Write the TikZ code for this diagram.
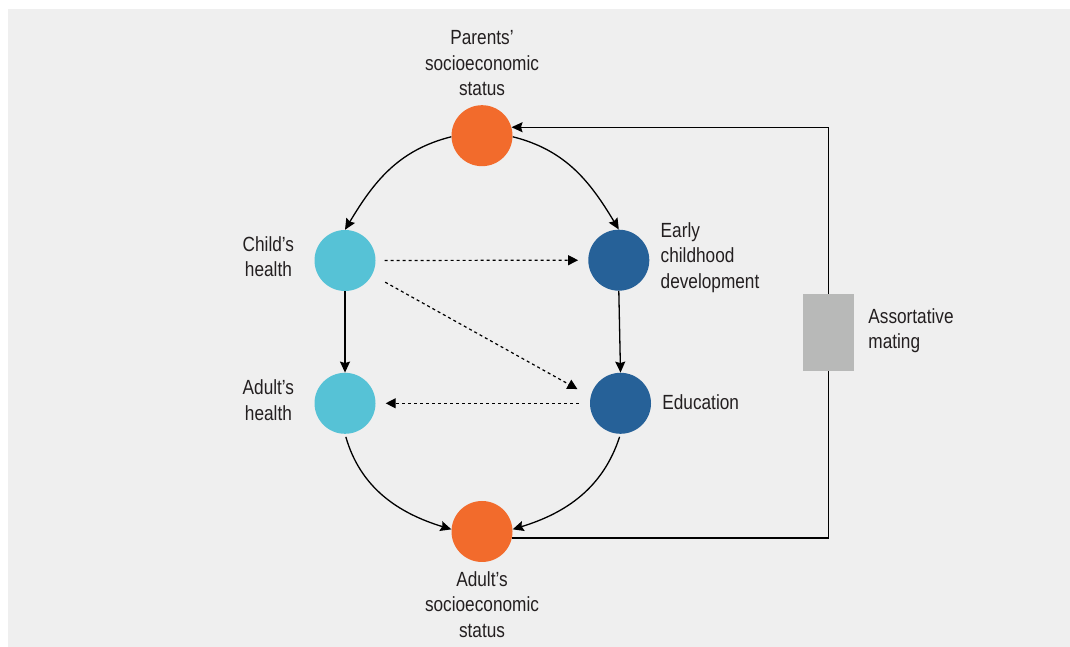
\documentclass[tikz,border=0pt]{standalone}
\usepackage{fontspec}
\setmainfont{Liberation Sans}[FakeStretch=0.84]
\usetikzlibrary{positioning,arrows.meta}
\definecolor{sesorange}{RGB}{242,107,44}
\definecolor{healthcyan}{RGB}{86,194,214}
\definecolor{edublue}{RGB}{38,97,152}
\definecolor{matinggray}{RGB}{184,185,184}
\definecolor{bggray}{RGB}{239,239,239}
\definecolor{textgray}{RGB}{35,31,32}

\begin{document}
\begin{tikzpicture}[x=1pt, y=1pt,
  dot/.style={circle, minimum size=61pt, inner sep=0pt},
  ses/.style={dot, fill=sesorange},
  health/.style={dot, fill=healthcyan},
  skill/.style={dot, fill=edublue},
  lbl/.style={inner sep=0pt, text=textgray, font=\fontsize{20.5}{25.5}\selectfont},
  line/.style={draw=black, line width=1.3pt, -{Stealth[length=11pt, width=10pt, inset=1.5pt]}},
  weak/.style={draw=black, line width=1.2pt, dash pattern=on 3pt off 3pt, -{Triangle[length=10pt, width=10pt]}}
]

  % Background
  \fill[white] (0,0) rectangle (1070,647);
  \fill[bggray] (8,0) rectangle (1070,638);
  \useasboundingbox (0,0) rectangle (1070,647);

  % Nodes
  \node[ses] (pses) at (482,511.3) {};
  \node[health] (child) at (345,386.5) {};
  \node[skill] (early) at (618.8,386.8) {};
  \node[health] (adulth) at (345,243.7) {};
  \node[skill] (edu) at (620.5,243.7) {};
  \node[ses] (ases) at (482,115.5) {};
  \node[fill=matinggray, minimum width=51pt, minimum height=77pt, inner sep=0pt] (mating) at (828.5,314.5) {};

  % Labels
  \node[lbl, align=center, above=9pt of pses] (pseslbl) {Parents’\\socioeconomic\\status};
  \node[lbl, align=center, below=9pt of ases] (aseslbl) {Adult’s\\socioeconomic\\status};
  \node[lbl, align=center, left=20pt of child, yshift=4pt] (childlbl) {Child’s\\health};
  \node[lbl, align=center, left=20pt of adulth, yshift=3pt] (adulthlbl) {Adult’s\\health};
  \node[lbl, align=left, right=11pt of early, yshift=2.5pt] (earlylbl) {Early\\childhood\\development};
  \node[lbl, right=11pt of edu, yshift=1pt] (edulbl) {Education};
  \node[lbl, align=left, right=14pt of mating, yshift=2pt] (matinglbl) {Assortative\\mating};

  % Arrows
  \path[line] (pses.182) to[out=194, in=59] (child.north);
  \path[line] (pses.-2) to[out=-14, in=121] (early.north);
  \path[line, shorten <=3pt] (adulth.south) to[out=-74, in=163] (ases.176);
  \path[line, shorten <=3pt] (edu.south) to[out=252, in=17] (ases.4);
  \path[line] (child.south) -- (adulth.north);
  \path[line] (early.south) -- (edu.north);
  \path[weak, shorten <=9pt, shorten >=10pt] (child.east) -- (early.west);
  \path[weak, shorten <=15pt, shorten >=15pt] (child.-28.6) -- (edu.167.5);
  \path[weak, shorten <=11pt, shorten >=10pt] (edu.west) -- (adulth.east);
  \draw[line width=1.3pt] (ases.-12) -| (mating.south);
  \path[line] (mating.north) |- (pses.16);

\end{tikzpicture}
\end{document}
